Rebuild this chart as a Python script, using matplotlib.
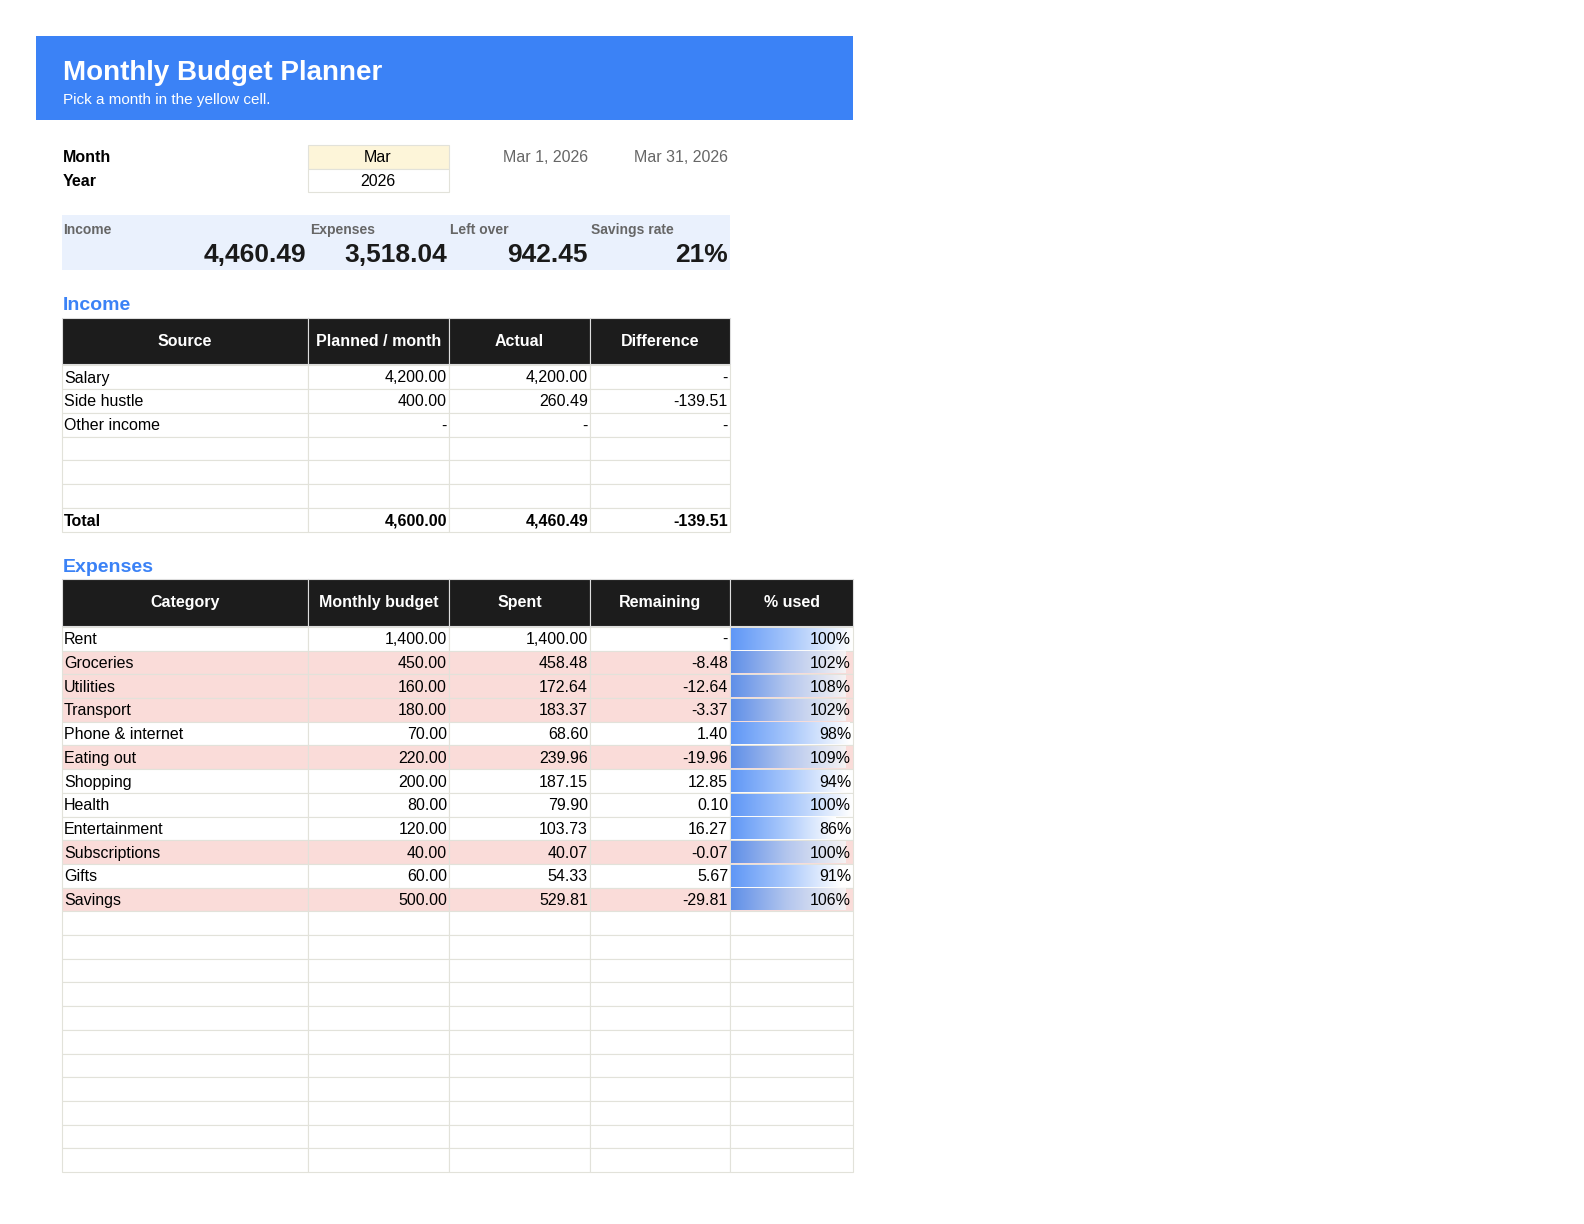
import matplotlib
matplotlib.use("Agg")
import matplotlib.pyplot as plt
import numpy as np
from matplotlib.patches import Rectangle
from matplotlib.colors import LinearSegmentedColormap

plt.rcParams['font.family'] = ['Liberation Sans', 'DejaVu Sans']

title = "Monthly Budget Planner"
subtitle = "Pick a month in the yellow cell."
month, year = "Mar", "2026"
start_date, end_date = "Mar 1, 2026", "Mar 31, 2026"
kpi_labels = ["Income", "Expenses", "Left over", "Savings rate"]
kpi_values = ["4,460.49", "3,518.04", "942.45", "21%"]

income_headers = ["Source", "Planned / month", "Actual", "Difference"]
income_sources = ["Salary", "Side hustle", "Other income"]
income_planned = [4200.00, 400.00, 0.0]
income_actual = [4200.00, 260.49, 0.0]

exp_headers = ["Category", "Monthly budget", "Spent", "Remaining", "% used"]
exp_categories = ["Rent", "Groceries", "Utilities", "Transport", "Phone & internet",
                  "Eating out", "Shopping", "Health", "Entertainment", "Subscriptions",
                  "Gifts", "Savings"]
exp_budget = [1400, 450, 160, 180, 70, 220, 200, 80, 120, 40, 60, 500]
exp_spent = [1400.00, 458.48, 172.64, 183.37, 68.60, 239.96, 187.15, 79.90, 103.73,
             40.07, 54.33, 529.81]

def fmt(v):
    if abs(v) < 0.005:
        return "-"
    return f"{v:,.2f}"

fig = plt.figure(figsize=(15.84, 12.24), dpi=100)
ax = fig.add_axes([0, 0, 1, 1])
ax.set_xlim(0, 1584); ax.set_ylim(1224, 0); ax.axis('off')

grid = "#e2e2da"
FS = 11.5
def rect(x0, y0, x1, y1, fc, ec=None, lw=0.8, z=1):
    ax.add_patch(Rectangle((x0, y0), x1 - x0, y1 - y0, facecolor=fc,
                           edgecolor=ec if ec else 'none', lw=lw, zorder=z))

# banner
rect(36, 36, 853, 120, "#3b82f6")
ax.text(63, 73, title, color="white", fontsize=20, fontweight="bold", va="center")
ax.text(63, 100, subtitle, color="white", fontsize=11, va="center")

# month/year
ax.text(63, 158, "Month", fontsize=FS, fontweight="bold", va="center")
ax.text(63, 182, "Year", fontsize=FS, fontweight="bold", va="center")
rect(308, 145, 449, 169, "#fdf5d9", grid)
rect(308, 169, 449, 192, "white", grid)
ax.text(378, 158, month, fontsize=FS, ha="center", va="center")
ax.text(378, 182, year, fontsize=FS, ha="center", va="center")
ax.text(588, 158, start_date, fontsize=FS, ha="right", va="center", color="#666666")
ax.text(728, 158, end_date, fontsize=FS, ha="right", va="center", color="#666666")

# KPI
rect(62, 215, 730, 270, "#eaf1fd")
kx = [63, 310, 450, 591]
vx = [306, 447, 588, 728]
for l, v, a, b in zip(kpi_labels, kpi_values, kx, vx):
    ax.text(a, 230, l, fontsize=10, fontweight="bold", color="#666666", va="center")
    ax.text(b, 255, v, fontsize=19, fontweight="bold", color="#1a1a1a", ha="right", va="center")

cols = [62, 308, 449, 590, 730, 853]

def header(y0, y1, heads):
    for i, h in enumerate(heads):
        rect(cols[i], y0, cols[i + 1], y1, "#1c1c1c", "#dddddd", 0.8, 2)
        ax.text((cols[i] + cols[i + 1]) / 2, (y0 + y1) / 2, h, color="white",
                fontsize=FS, fontweight="bold", ha="center", va="center", zorder=3)

# income
ax.text(63, 305, "Income", fontsize=14, fontweight="bold", color="#3b82f6", va="center")
header(318, 364, income_headers)
rows_y = [365, 389, 413, 437, 460, 484, 508, 532]
for r in range(7):
    y0, y1 = rows_y[r], rows_y[r + 1]
    for c in range(4):
        rect(cols[c], y0, cols[c + 1], y1, "white", grid)
    yc = (y0 + y1) / 2 + 1
    if r < len(income_sources):
        ax.text(64, yc, income_sources[r], fontsize=FS, va="center")
        vals = [income_planned[r], income_actual[r], income_actual[r] - income_planned[r]]
        for c, v in enumerate(vals):
            ax.text(cols[c + 2] - 2, yc, fmt(v), fontsize=FS, ha="right", va="center")
    elif r == 6:
        ax.text(64, yc, "Total", fontsize=FS, fontweight="bold", va="center")
        vals = [sum(income_planned), sum(income_actual), sum(income_actual) - sum(income_planned)]
        for c, v in enumerate(vals):
            ax.text(cols[c + 2] - 2, yc, fmt(v), fontsize=FS, fontweight="bold", ha="right", va="center")

# expenses
ax.text(63, 567, "Expenses", fontsize=14, fontweight="bold", color="#3b82f6", va="center")
header(579, 626, exp_headers)
n_rows = 23
ys = np.linspace(627, 1172, n_rows + 1)
pct = [s / b for s, b in zip(exp_spent, exp_budget)]
maxp = max(pct)
grad = np.linspace(0, 1, 256).reshape(1, -1)
cm_under = LinearSegmentedColormap.from_list("u", ["#5f97f6", "#a9c8fb", "#ffffff"])
cm_over = LinearSegmentedColormap.from_list("o", ["#5f8fe8", "#b5c7ee", "#f6f3f3"])
for r in range(n_rows):
    y0, y1 = ys[r], ys[r + 1]
    yc = (y0 + y1) / 2 + 1
    if r < len(exp_categories):
        over = exp_spent[r] > exp_budget[r] + 0.001
        fc = "#fadcd9" if over else "white"
    else:
        fc = "white"
    for c in range(5):
        rect(cols[c], y0, cols[c + 1], y1, fc, grid)
    if r < len(exp_categories):
        ax.text(64, yc, exp_categories[r], fontsize=FS, va="center", zorder=4)
        vals = [exp_budget[r], exp_spent[r], exp_budget[r] - exp_spent[r]]
        for c, v in enumerate(vals):
            ax.text(cols[c + 2] - 2, yc, fmt(v), fontsize=FS, ha="right", va="center", zorder=4)
        w = (cols[5] - cols[4] - 2) * min(pct[r] / 1.0, 1.0) if not over else (cols[5] - cols[4] - 2) * 0.95
        ax.imshow(grad, cmap=cm_over if over else cm_under, aspect="auto",
                  extent=(cols[4] + 1, cols[4] + 1 + w, y1 - 1, y0 + 1), zorder=3)
        ax.text(cols[5] - 2, yc, f"{pct[r]*100:.0f}%", fontsize=FS, ha="right", va="center", zorder=4)

ax.set_xlim(0, 1584); ax.set_ylim(1224, 0)
fig.savefig("out.png", dpi=100, facecolor="white")
